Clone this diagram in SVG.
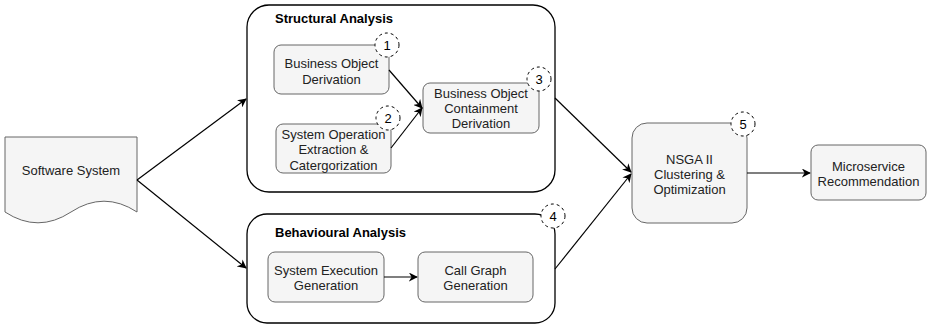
<svg xmlns="http://www.w3.org/2000/svg" width="929" height="325" viewBox="0 0 929 325">
  <defs>
    <marker id="arrow" viewBox="0 0 10 10" refX="9" refY="5" markerWidth="9" markerHeight="9" markerUnits="userSpaceOnUse" orient="auto">
      <path d="M0,0 L10,5 L0,10 L3,5 Z" fill="#000"/>
    </marker>
    <style>
      text { font-family: "Liberation Sans", Arial, Helvetica, sans-serif; font-size: 13px; text-anchor: middle; dominant-baseline: central; fill: #222; }
      .title { font-weight: bold; text-anchor: start; fill: #000; }
      .box { fill: #f5f5f5; stroke: #666; stroke-width: 1; }
      .group { fill: #fff; stroke: #000; stroke-width: 1.3; }
      .badge { fill: #fff; stroke: #000; stroke-width: 1; stroke-dasharray: 3 3; }
      .badge-text { fill: #000; }
      .edge { fill: none; stroke: #000; stroke-width: 1.2; marker-end: url(#arrow); }
    </style>
  </defs>

  <!-- input document -->
  <g id="software-system">
    <path class="box" d="M5,137 L137,137 L137,212 Q104,190.4 71,212 Q38,233.6 5,212 Z"/>
    <text x="71" y="170">Software System</text>
  </g>

  <!-- structural analysis group -->
  <g id="structural-analysis">
    <rect class="group" x="247" y="5" width="308" height="187" rx="22" ry="22"/>
    <text class="title" x="275" y="18">Structural Analysis</text>
  </g>

  <g id="bo-derivation">
    <rect class="box" x="274" y="45" width="115" height="49" rx="7" ry="7"/>
    <text x="331.5" y="63">Business Object</text>
    <text x="331.5" y="79">Derivation</text>
  </g>
  <g id="badge-1">
    <circle class="badge" cx="387" cy="45" r="12"/>
    <text class="badge-text" x="387" y="45">1</text>
  </g>

  <g id="sysop-extraction">
    <rect class="box" x="276" y="124" width="115" height="49" rx="7" ry="7"/>
    <text x="333.5" y="134">System Operation</text>
    <text x="333.5" y="149.5">Extraction &amp;</text>
    <text x="333.5" y="165">Catergorization</text>
  </g>
  <g id="badge-2">
    <circle class="badge" cx="388" cy="118" r="12"/>
    <text class="badge-text" x="388" y="118">2</text>
  </g>

  <g id="bo-containment">
    <rect class="box" x="423" y="83" width="116" height="50" rx="7" ry="7"/>
    <text x="481" y="93">Business Object</text>
    <text x="481" y="108">Containment</text>
    <text x="481" y="123">Derivation</text>
  </g>
  <g id="badge-3">
    <circle class="badge" cx="539" cy="79" r="12"/>
    <text class="badge-text" x="539" y="79">3</text>
  </g>

  <!-- behavioural analysis group -->
  <g id="behavioural-analysis">
    <rect class="group" x="247" y="214" width="308" height="109" rx="20" ry="20"/>
    <text class="title" x="275" y="232">Behavioural Analysis</text>
  </g>
  <g id="badge-4">
    <circle class="badge" cx="553" cy="216" r="12"/>
    <text class="badge-text" x="553" y="216">4</text>
  </g>

  <g id="system-execution">
    <rect class="box" x="268" y="252" width="116" height="50" rx="7" ry="7"/>
    <text x="326" y="270">System Execution</text>
    <text x="326" y="285">Generation</text>
  </g>

  <g id="call-graph">
    <rect class="box" x="418" y="252" width="115" height="50" rx="7" ry="7"/>
    <text x="475.5" y="270">Call Graph</text>
    <text x="475.5" y="285">Generation</text>
  </g>

  <!-- optimisation -->
  <g id="nsga">
    <rect class="box" x="632" y="123" width="115" height="100" rx="15" ry="15"/>
    <text x="689.5" y="159">NSGA II</text>
    <text x="689.5" y="174">Clustering &amp;</text>
    <text x="689.5" y="189">Optimization</text>
  </g>
  <g id="badge-5">
    <circle class="badge" cx="743" cy="124" r="12"/>
    <text class="badge-text" x="743" y="124">5</text>
  </g>

  <g id="microservice-recommendation">
    <rect class="box" x="811" y="145" width="115" height="55" rx="7" ry="7"/>
    <text x="868.5" y="166">Microservice</text>
    <text x="868.5" y="181">Recommendation</text>
  </g>

  <!-- connectors -->
  <g id="connectors">
    <line class="edge" x1="137" y1="180" x2="246" y2="99"/>
    <line class="edge" x1="137" y1="180" x2="246" y2="268"/>
    <line class="edge" x1="389" y1="70" x2="422" y2="108"/>
    <line class="edge" x1="391" y1="148" x2="422" y2="108"/>
    <line class="edge" x1="555" y1="98" x2="631" y2="172"/>
    <line class="edge" x1="555" y1="269" x2="631" y2="174"/>
    <line class="edge" x1="384" y1="277" x2="417" y2="277"/>
    <line class="edge" x1="747" y1="173" x2="810" y2="173"/>
  </g>
</svg>
